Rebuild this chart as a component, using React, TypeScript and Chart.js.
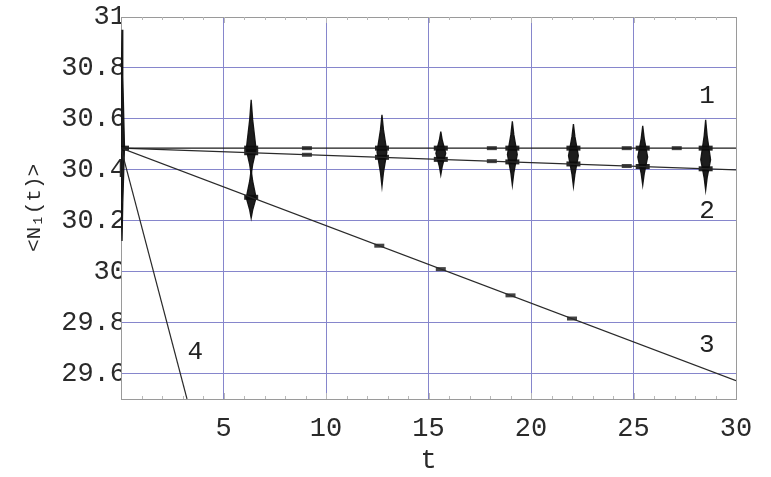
import React, { useEffect, useRef } from "react";
import { Chart, registerables } from "chart.js";

Chart.register(...registerables);

// ---- data ----
const xTicks = [0, 5, 10, 15, 20, 25, 30];
const yTicks = [29.6, 29.8, 30, 30.2, 30.4, 30.6, 30.8, 31];

const line1T = [0, 30];
const line1Y = [30.485, 30.485];
const line2T = [0, 30];
const line2Y = [30.485, 30.4];
const line3T = [0, 30];
const line3Y = [30.485, 29.572];
const line4T = [0, 3.22];
const line4Y = [30.485, 29.5];

// oscillation bursts (time, centre, top, bottom)
const burstT = [0.05, 6.35, 6.35, 12.73, 15.6, 19.09, 22.07, 25.45, 28.52];
const burstMid = [30.49, 30.48, 30.29, 30.47, 30.465, 30.46, 30.455, 30.45, 30.44];
const burstTop = [30.95, 30.675, 30.4, 30.616, 30.55, 30.59, 30.58, 30.573, 30.596];
const burstBottom = [30.12, 30.38, 30.21, 30.335, 30.38, 30.34, 30.335, 30.34, 30.32];

// dark lumps where bursts cross the curves
const lumpT = [0.05, 6.35, 6.35, 6.35, 12.73, 12.73, 15.6, 15.6, 19.09, 19.09, 22.07, 22.07, 25.45, 25.45, 28.52, 28.52];
const lumpY = [30.485, 30.485, 30.467, 30.292, 30.485, 30.449, 30.485, 30.441, 30.485, 30.431, 30.485, 30.423, 30.485, 30.413, 30.485, 30.404];

// small dots on the curves
const dotT = [9.07, 9.07, 18.09, 18.09, 24.67, 24.67, 27.11, 12.6, 15.6, 19.0, 22.0];
const dotY = [30.485, 30.459, 30.485, 30.434, 30.485, 30.415, 30.485, 30.102, 30.01, 29.907, 29.816];

// curve labels
const labelText = ["1", "2", "3", "4"];
const labelT = [28.59, 28.59, 28.57, 3.62];
const labelY = [30.688, 30.239, 29.712, 29.686];

const FONT = "'Liberation Mono', 'DejaVu Sans Mono', monospace";
const GRID = "#8686cc";
const FRAME = "#9a9a9a";

function pts(ts: number[], ys: number[]) {
  return ts.map((t, i) => ({ x: t, y: ys[i] }));
}

function spindle(i: number) {
  const t = burstT[i];
  const m = burstMid[i];
  const top = burstTop[i];
  const bot = burstBottom[i];
  const hw = t < 1 ? 0.12 : 0.24;
  return [
    { x: t, y: top },
    { x: t + hw * 0.3, y: m + (top - m) * 0.6 },
    { x: t + hw, y: m },
    { x: t + hw * 0.3, y: m - (m - bot) * 0.6 },
    { x: t, y: bot },
    { x: t - hw * 0.3, y: m - (m - bot) * 0.6 },
    { x: t - hw, y: m },
    { x: t - hw * 0.3, y: m + (top - m) * 0.6 },
    { x: t, y: top },
  ];
}

const labelsPlugin = {
  id: "curveLabels",
  afterDatasetsDraw(chart: any) {
    const { ctx, scales, chartArea } = chart;
    const xs = scales.x;
    const ys = scales.y;
    ctx.save();
    // minor ticks
    ctx.strokeStyle = "#b8b8b8";
    ctx.lineWidth = 1;
    for (let t = 1; t < 30; t++) {
      const px = Math.round(xs.getPixelForValue(t)) + 0.5;
      const len = t % 5 === 0 ? 6 : 3;
      ctx.beginPath();
      ctx.moveTo(px, chartArea.bottom);
      ctx.lineTo(px, chartArea.bottom - len);
      ctx.moveTo(px, chartArea.top);
      ctx.lineTo(px, chartArea.top + len);
      ctx.stroke();
    }
    ctx.fillStyle = "#222";
    ctx.font = `26px ${FONT}`;
    ctx.textAlign = "center";
    ctx.textBaseline = "middle";
    labelText.forEach((s, i) => {
      ctx.fillText(s, xs.getPixelForValue(labelT[i]), ys.getPixelForValue(labelY[i]));
    });
    ctx.restore();
  },
};

export default function App() {
  const ref = useRef<HTMLCanvasElement | null>(null);
  useEffect(() => {
    if (!ref.current) return;
    const lineDs = (data: any, w: number, color: string) => ({
      type: "line" as const,
      data,
      borderColor: color,
      borderWidth: w,
      pointRadius: 0,
      fill: false,
      tension: 0,
    });
    const burstDs = burstT.map((_, i) => ({
      type: "line" as const,
      data: spindle(i),
      borderColor: "rgba(15,15,15,0.95)",
      backgroundColor: "rgba(10,10,10,0.92)",
      borderWidth: 1.3,
      pointRadius: 0,
      fill: "shape",
      tension: 0,
    }));
    const chart = new Chart(ref.current, {
      type: "scatter",
      data: {
        datasets: [
          lineDs(pts(line1T, line1Y), 1.4, "#1a1a1a"),
          lineDs(pts(line2T, line2Y), 1.3, "#2a2a2a"),
          lineDs(pts(line3T, line3Y), 1.2, "#2a2a2a"),
          lineDs(pts(line4T, line4Y), 1.2, "#2a2a2a"),
          ...burstDs,
          {
            type: "scatter" as const,
            data: pts(lumpT, lumpY),
            pointStyle: "line",
            pointRadius: 7,
            borderWidth: 5,
            borderColor: "rgba(15,15,15,0.9)",
            backgroundColor: "rgba(15,15,15,0.9)",
          },
          {
            type: "scatter" as const,
            data: pts(dotT, dotY),
            pointStyle: "line",
            pointRadius: 5,
            borderWidth: 4,
            borderColor: "rgba(35,35,35,0.85)",
            backgroundColor: "rgba(35,35,35,0.85)",
          },
        ] as any,
      },
      options: {
        animation: false,
        responsive: false,
        maintainAspectRatio: false,
        layout: { padding: { left: 0, top: 17, right: 35, bottom: 0 } },
        plugins: { legend: { display: false }, tooltip: { enabled: false } },
        scales: {
          x: {
            type: "linear",
            min: 0,
            max: 30,
            afterFit: (s: any) => {
              s.height = 78;
            },
            afterBuildTicks: (s: any) => {
              s.ticks = xTicks.map((v) => ({ value: v }));
            },
            grid: {
              color: (c: any) => (c.tick && (c.tick.value === 30 || c.tick.value === 0) ? FRAME : GRID),
              lineWidth: 1,
              drawTicks: false,
            },
            border: { color: FRAME, width: 1 },
            ticks: {
              autoSkip: false,
              maxRotation: 0,
              padding: 14,
              color: "#2a2a2a",
              font: { family: FONT, size: 27 },
              callback: (v: any) => (v === 0 ? "" : String(v)),
            },
            title: {
              display: true,
              text: "t",
              color: "#2a2a2a",
              font: { family: FONT, size: 27 },
              padding: { top: 3, bottom: 0 },
            },
          },
          y: {
            type: "linear",
            min: 29.5,
            max: 31,
            afterFit: (s: any) => {
              s.width = 121;
            },
            afterBuildTicks: (s: any) => {
              s.ticks = yTicks.map((v) => ({ value: v }));
            },
            grid: {
              color: (c: any) => (c.tick && c.tick.value === 31 ? FRAME : GRID),
              lineWidth: 1,
              drawTicks: false,
            },
            border: { color: FRAME, width: 1 },
            ticks: {
              autoSkip: false,
              padding: -5,
              color: "#2a2a2a",
              font: { family: FONT, size: 27 },
              callback: (v: any) => String(Math.round(Number(v) * 10) / 10),
            },
            title: {
              display: true,
              text: "<N\u2081(t)>",
              color: "#2a2a2a",
              font: { family: FONT, size: 21 },
              padding: { top: 22, bottom: 0 },
            },
          },
        },
      },
      plugins: [labelsPlugin],
    });
    return () => chart.destroy();
  }, []);
  return (
    <div style={{ position: "fixed", left: 0, top: 0, width: 771, height: 477, background: "#fff" }}>
      <canvas ref={ref} width={771} height={477} style={{ width: 771, height: 477 }} />
    </div>
  );
}
